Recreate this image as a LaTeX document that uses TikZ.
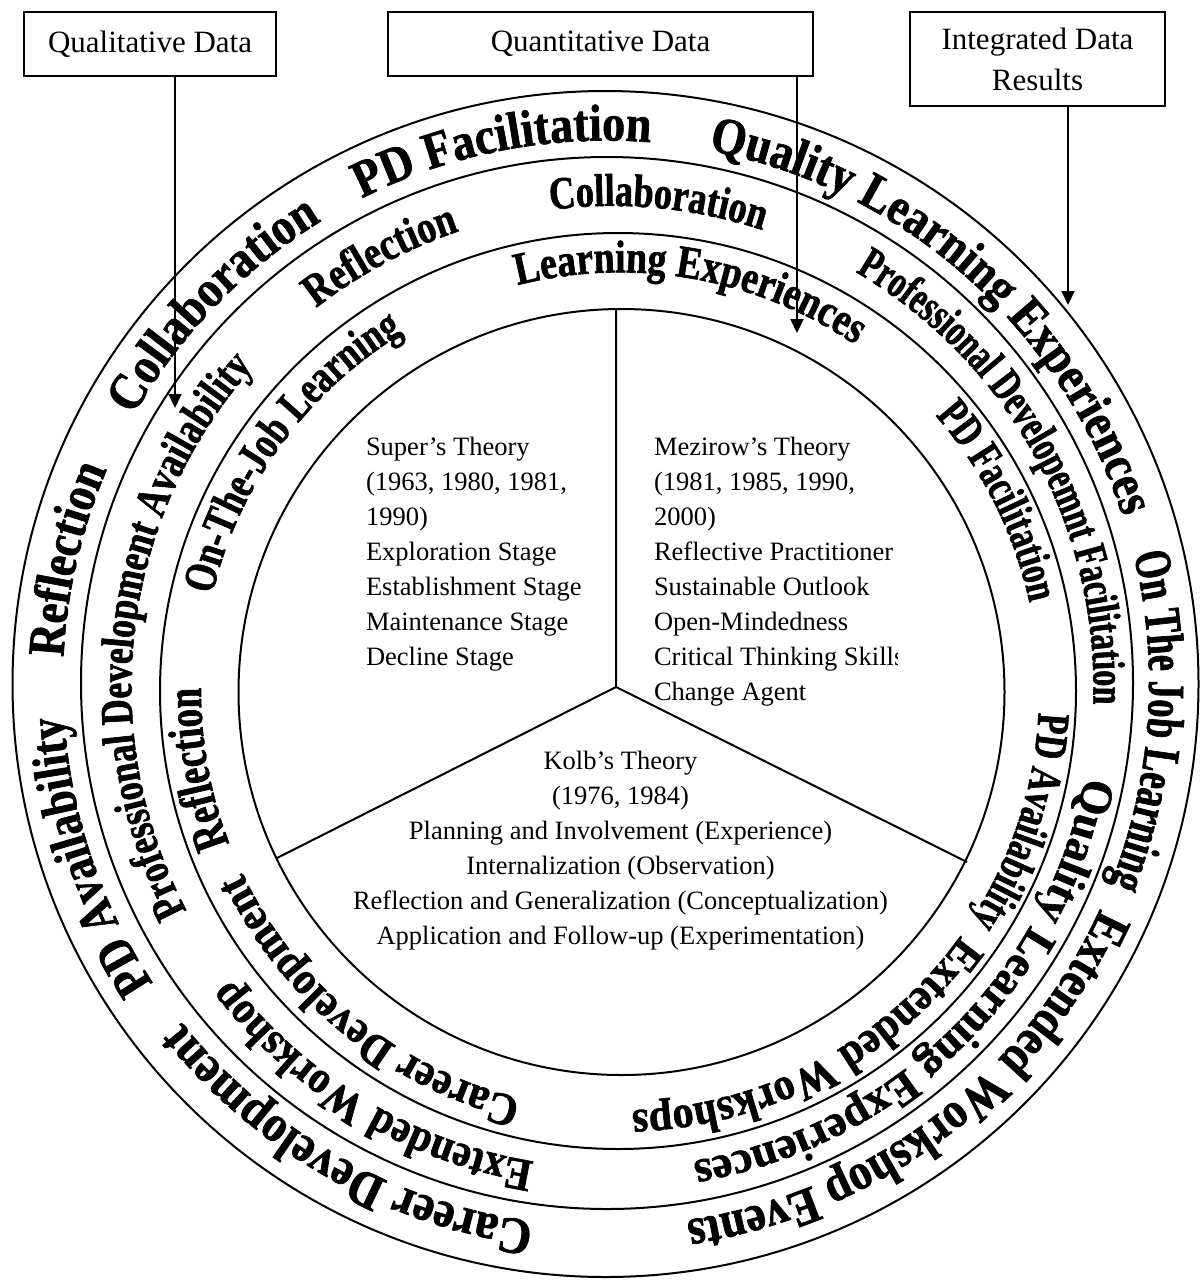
\documentclass[tikz,border=0pt]{standalone}
\usepackage{fontspec}
\setmainfont{Liberation Serif}
\usetikzlibrary{decorations.text,arrows.meta}

\newcommand\ringfont[2]{\fontspec{Liberation Serif}[FakeStretch=#2,FakeBold=1.3]\bfseries\fontsize{#1}{#1}\selectfont}
% label on a clockwise arc: centre, radius, mid angle, size, stretch, text
\newcommand\ringlabel[6]{%
  \path[decorate,decoration={text along path,text align=center,
      text={|\ringfont{#4}{#5}|#6}}]
    (#1) ++({#3+80}:#2) arc[start angle={#3+80},end angle={#3-80},radius=#2];}

\begin{document}
\begin{tikzpicture}[x=0.5pt,y=0.5pt,line width=1pt,
  databox/.style={draw,font=\fontsize{15.5}{20.5}\selectfont,align=center,inner sep=0pt},
  theory/.style={font=\fontsize{13.25}{17.5}\selectfont,inner sep=0pt},
  flow/.style={-{Triangle[length=7pt,width=6.5pt]}}]
\useasboundingbox (0,0) rectangle (1201,-1280);

% data boxes
\node[databox,minimum width=126pt,minimum height=32pt] (qual) at (150,-44) {Qualitative Data};
\node[databox,minimum width=212.5pt,minimum height=32pt] (quant) at (600.5,-44) {Quantitative Data};
\node[databox,minimum width=127.5pt,minimum height=47pt] (integ) at (1037.5,-59) {Integrated Data\\Results};

% rings
\draw (605.5,-684) circle (593);
\draw (607,-683) circle (526);
\draw (618,-691) circle (458);
\draw (621.5,-692) circle (383);

% three sectors
\coordinate (hub) at (616,-687);
\coordinate (rimtop) at (616,-309);
\coordinate (rimleft) at (277,-858);
\coordinate (rimright) at (967,-862);
\draw (hub) -- (rimtop) (hub) -- (rimleft) (hub) -- (rimright);

\node[theory,anchor=base west,align=left] (super) at (365,-665)
  {Super’s Theory\\(1963, 1980, 1981,\\1990)\\Exploration Stage\\Establishment Stage\\Maintenance Stage\\Decline Stage};
\begin{scope}
  \clip (640,-400) rectangle (897,-730);
  \node[theory,anchor=base west,align=left] (mezirow) at (653,-700)
    {Mezirow’s Theory\\(1981, 1985, 1990,\\2000)\\Reflective Practitioner\\Sustainable Outlook\\Open-Mindedness\\Critical Thinking Skills\\Change Agent};
\end{scope}
\node[theory,align=center] (kolb) at (620.5,-850.5)
  {Kolb’s Theory\\(1976, 1984)\\Planning and Involvement (Experience)\\Internalization (Observation)\\Reflection and Generalization (Conceptualization)\\Application and Follow-up (Experimentation)};

% arrows into the rings
\coordinate (qualtip) at (175,-408);
\coordinate (quanttip) at (797,-333);
\coordinate (integtip) at (1068,-305);
\draw[flow] (qual.south -| qualtip) -- (qualtip);
\draw[flow] (quant.south -| quanttip) -- (quanttip);
\draw[flow] (integ.south -| integtip) -- (integtip);

% ring centres
\coordinate (c3) at (606,-683.5);
\coordinate (c2) at (612.5,-687);
\coordinate (c1) at (620,-691.5);

% outer band
\ringlabel{c3}{543}{136}{26}{0.885}{Collaboration}
\ringlabel{c3}{543}{167}{26}{0.86}{Reflection}
\ringlabel{c3}{543}{198.5}{26}{0.83}{PD Availability}
\ringlabel{c3}{543}{240.5}{26}{0.9}{Career Development}
\ringlabel{c3}{543}{-53}{26}{0.87}{Extended Workshop Events}
\ringlabel{c3}{543}{-4}{26}{0.7}{On The Job Learning}
\ringlabel{c3}{543}{48.5}{26}{0.87}{Quality Learning Experiences}
\ringlabel{c3}{543}{101}{26}{0.885}{PD Facilitation}

% middle band
\ringlabel{c2}{481}{84.6}{23}{0.785}{Collaboration}
\ringlabel{c2}{481}{118.3}{23}{0.82}{Reflection}
\ringlabel{c2}{481}{173}{23}{0.776}{Professional Development Availability}
\ringlabel{c2}{481}{239}{23}{0.895}{Extended Workshop}
\ringlabel{c2}{481}{-45.6}{23}{0.99}{Quality Learning Experiences}
\ringlabel{c2}{481}{28.8}{23}{0.694}{Professional Developemnt Facilitation}

% inner band
\ringlabel{c1}{419}{80}{23}{0.82}{Learning Experiences}
\ringlabel{c1}{419}{143.9}{23}{0.767}{On-The-Job Learning}
\ringlabel{c1}{419}{190.4}{25}{0.736}{Reflection}
\ringlabel{c1}{419}{231}{23}{0.91}{Career Development}
\ringlabel{c1}{419}{-62}{23}{0.913}{Extended Workshops}
\ringlabel{c1}{419}{-18}{23}{0.73}{PD Availability}
\ringlabel{c1}{419}{26.7}{23}{0.712}{PD Facilitation}
\end{tikzpicture}
\end{document}
